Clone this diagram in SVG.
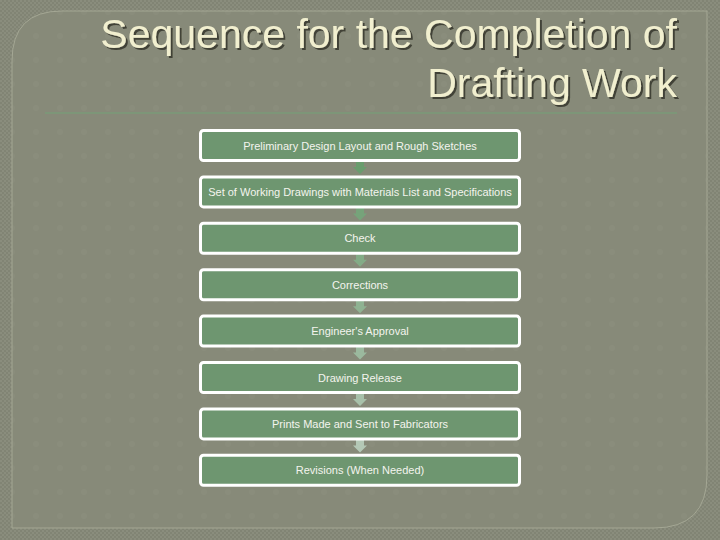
<svg xmlns="http://www.w3.org/2000/svg" width="720" height="540" viewBox="0 0 720 540">
  <defs>
    <pattern id="outerTex" width="4" height="4" patternUnits="userSpaceOnUse">
      <rect width="4" height="4" fill="#818474"/>
      <rect x="0" y="0" width="2" height="2" fill="#8a8d7d"/>
      <rect x="2" y="2" width="2" height="2" fill="#8a8d7d"/>
    </pattern>
    <pattern id="panelTex" width="24" height="24" patternUnits="userSpaceOnUse">
      <rect width="24" height="24" fill="#878a79"/>
      <circle cx="12" cy="12" r="3" fill="#8a8d7c"/>
    </pattern>
    <filter id="shadow" x="-5%" y="-20%" width="110%" height="150%">
      <feDropShadow dx="2" dy="2" stdDeviation="0.6" flood-color="#2f3028" flood-opacity="0.8"/>
    </filter>
    <style>
      .title { font-family: "Liberation Sans", Arial, sans-serif; font-size: 41px; fill: #f1efcf; text-anchor: end; }
      .box { fill: #6e9670; stroke: #ffffff; stroke-width: 3; }
      .label { font-family: "Liberation Sans", Arial, sans-serif; font-size: 11px; fill: #f4f4ee; text-anchor: middle; }
    </style>
  </defs>

  <!-- background -->
  <rect x="0" y="0" width="720" height="540" fill="url(#outerTex)"/>
  <path d="M62,11 H707 V475 Q707,528 654,528 H12 V61 Q12,11 62,11 Z" fill="url(#panelTex)" stroke="#a4a794" stroke-width="1"/>

  <!-- title -->
  <g id="title" filter="url(#shadow)">
    <text class="title" x="677" y="48">Sequence for the Completion of</text>
    <text class="title" x="677" y="97">Drafting Work</text>
  </g>
  <line x1="45" y1="113" x2="677" y2="113" stroke="#7a9a78" stroke-width="1.5"/>

  <!-- connectors -->
  <g id="connectors">
    <path d="M356,161 h8 v6 h3 l-7,7 l-7,-7 h3 z" fill="#6a9c6e"/>
    <path d="M356,207.4 h8 v6 h3 l-7,7 l-7,-7 h3 z" fill="#76a37a"/>
    <path d="M356,253.8 h8 v6 h3 l-7,7 l-7,-7 h3 z" fill="#83ab86"/>
    <path d="M356,300.2 h8 v6 h3 l-7,7 l-7,-7 h3 z" fill="#8fb292"/>
    <path d="M356,346.6 h8 v6 h3 l-7,7 l-7,-7 h3 z" fill="#9bb99e"/>
    <path d="M356,393 h8 v6 h3 l-7,7 l-7,-7 h3 z" fill="#a8c1aa"/>
    <path d="M356,439.4 h8 v6 h3 l-7,7 l-7,-7 h3 z" fill="#b4c8b6"/>
  </g>

  <!-- nodes -->
  <g id="node1">
    <rect class="box" x="200.5" y="130.5" width="319" height="30" rx="3"/>
    <text class="label" x="360" y="149.5">Preliminary Design Layout and Rough Sketches</text>
  </g>
  <g id="node2">
    <rect class="box" x="200.5" y="176.9" width="319" height="30" rx="3"/>
    <text class="label" x="360" y="195.9">Set of Working Drawings with Materials List and Specifications</text>
  </g>
  <g id="node3">
    <rect class="box" x="200.5" y="223.3" width="319" height="30" rx="3"/>
    <text class="label" x="360" y="242.3">Check</text>
  </g>
  <g id="node4">
    <rect class="box" x="200.5" y="269.7" width="319" height="30" rx="3"/>
    <text class="label" x="360" y="288.7">Corrections</text>
  </g>
  <g id="node5">
    <rect class="box" x="200.5" y="316.1" width="319" height="30" rx="3"/>
    <text class="label" x="360" y="335.1">Engineer's Approval</text>
  </g>
  <g id="node6">
    <rect class="box" x="200.5" y="362.5" width="319" height="30" rx="3"/>
    <text class="label" x="360" y="381.5">Drawing Release</text>
  </g>
  <g id="node7">
    <rect class="box" x="200.5" y="408.9" width="319" height="30" rx="3"/>
    <text class="label" x="360" y="427.9">Prints Made and Sent to Fabricators</text>
  </g>
  <g id="node8">
    <rect class="box" x="200.5" y="455.3" width="319" height="30" rx="3"/>
    <text class="label" x="360" y="474.3">Revisions (When Needed)</text>
  </g>
</svg>
